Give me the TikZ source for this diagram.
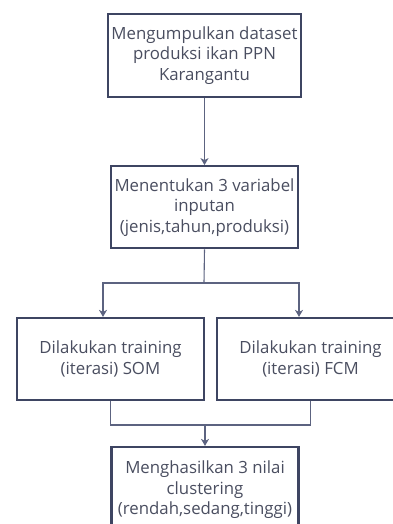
\documentclass[tikz,border=0pt]{standalone}
\usepackage{fontspec}
\setmainfont{Open Sans}
\usepackage{tikz}
\usetikzlibrary{shapes,arrows,arrows.meta,positioning,calc}

\definecolor{boxline}{HTML}{3E4562}
\definecolor{linkline}{HTML}{5C6380}
\definecolor{textgray}{HTML}{4A4E60}

\begin{document}
\begin{tikzpicture}[x=1pt,y=-1pt,font=\fontsize{16.8}{20.5}\selectfont]
    % Define styles
    \tikzstyle{process} = [rectangle, minimum width=187pt, minimum height=82pt, align=center, text=textgray, draw=boxline, line width=2.2pt, fill=white]
    \tikzstyle{link} = [draw=linkline, line width=1.1pt]
    \tikzstyle{arrow} = [link, -{Stealth[length=7pt,width=8pt,inset=2pt]}]

    \useasboundingbox (0,0) rectangle (393,524);

    % Nodes
    \node (dataset) [process, minimum height=83pt] at (204.5,55.5) {Mengumpulkan dataset\\produksi ikan PPN\\Karangantu};
    \node (vars) [process, below=67pt of dataset] {Menentukan 3 variabel\\inputan\\(jenis,tahun,produksi)};
    \node (som) [process] at (110.5,359) {Dilakukan training\\(iterasi) SOM};
    \node (fcm) [process] at (310.5,359) {Dilakukan training\\(iterasi) FCM};
    \node (result) [process, minimum height=86pt] at (205,490) {Menghasilkan 3 nilai\\clustering\\(rendah,sedang,tinggi)};

    \coordinate (split) at (204,283);
    \coordinate (merge) at (205,425);

    % Arrows
    \draw [arrow] (dataset.south) -- (vars.north);
    \draw [link] (vars.south) -- (split);
    \draw [arrow] (split) -| ([xshift=-7.5pt]som.north);
    \draw [arrow] (split) -| ([xshift=-11.5pt]fcm.north);
    \draw [link] (som.south) |- (merge) -| (fcm.south);
    \draw [arrow] (merge) -- (result.north);
\end{tikzpicture}
\end{document}
